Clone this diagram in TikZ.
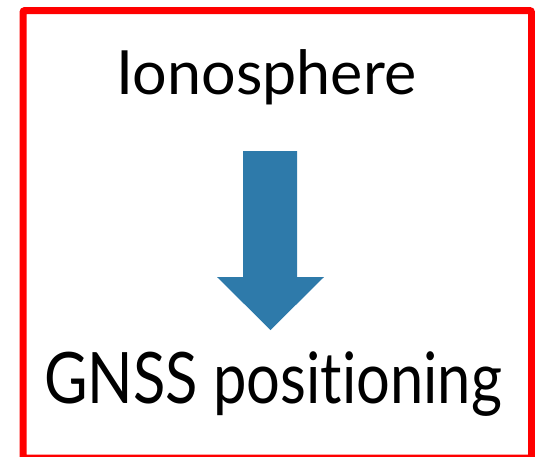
\documentclass[tikz,border=0pt]{standalone}
\usepackage{fontspec}
\setmainfont[Ligatures=NoCommon]{Lato}
\definecolor{arrowblue}{RGB}{46,122,170}
\begin{document}
\begin{tikzpicture}[x=1pt,y=-1pt]
	\useasboundingbox (0,0) rectangle (535,456);
	\clip (0,0) rectangle (535,456);

	\draw[line width=7pt,red,rounded corners=2pt] (23,10.5) rectangle (531.5,458);

	\node[anchor=base,font=\fontsize{61}{61}\selectfont] (iono) at (266.5,94) {Ionosphere};
	\node[anchor=base,xscale=0.84,font=\fontsize{71}{71}\selectfont] (gnss) at (273,403) {GNSS positioning};

	\fill[arrowblue]
	(243,151) -- (297,151) -- (297,277) -- (324,277)
	-- (270.5,330) -- (217,277) -- (243,277) -- cycle;
\end{tikzpicture}
\end{document}
